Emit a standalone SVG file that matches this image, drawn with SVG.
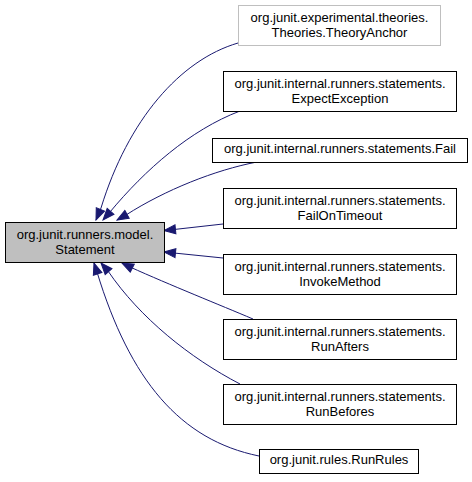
<svg xmlns="http://www.w3.org/2000/svg" width="472" height="482" viewBox="0 0 472 482">
<style>
.n{fill:#fff;stroke:#000;stroke-width:1}
.g{fill:#fff;stroke:#bfbfbf;stroke-width:1}
.m{fill:#bfbfbf;stroke:#000;stroke-width:1}
text{font-family:"Liberation Sans",Arial,sans-serif;font-size:13px;fill:#000;text-anchor:middle}
.e path{fill:none;stroke:#191970;stroke-width:1}
</style>
<defs>
<marker id="ah" markerUnits="userSpaceOnUse" markerWidth="14" markerHeight="12" viewBox="0 0 14 12" refX="12.5" refY="6" orient="auto">
<path d="M1,1.5 L12.5,6 L1,10.5 Z" fill="#191970" stroke="#191970"/>
</marker>
</defs>
<rect width="472" height="482" fill="#fff"/>
<g class="e" id="edges">
<path d="M238,43 C180,60 128,120 101,208 L96,220" marker-end="url(#ah)"/>
<path d="M240,111 C190,130 145,170 110,212 L103,220" marker-end="url(#ah)"/>
<path d="M257,162 C215,170 165,190 126,215 L117,220" marker-end="url(#ah)"/>
<path d="M223,224 L174,229.5 L164,230.5" marker-end="url(#ah)"/>
<path d="M223,258 L174,253 L164,252" marker-end="url(#ah)"/>
<path d="M253,319 C220,305 170,285 130,267 L122,263" marker-end="url(#ah)"/>
<path d="M240,384 C190,358 140,318 108,271 L101,263" marker-end="url(#ah)"/>
<path d="M259,456 C180,440 130,380 97,272 L94,263" marker-end="url(#ah)"/>
</g>
<g id="main">
<rect class="m" x="5.5" y="222.5" width="159" height="40"/>
<text x="85" y="238.5">org.junit.runners.model.</text>
<text x="85" y="253.5">Statement</text>
</g>
<g id="theoryanchor">
<rect class="g" x="238.5" y="5.5" width="202" height="40"/>
<text x="339.5" y="21.5">org.junit.experimental.theories.</text>
<text x="339.5" y="36.5">Theories.TheoryAnchor</text>
</g>
<g id="expectexception">
<rect class="n" x="223.5" y="71.5" width="233" height="40"/>
<text x="340" y="87.5">org.junit.internal.runners.statements.</text>
<text x="340" y="102.5">ExpectException</text>
</g>
<g id="fail">
<rect class="n" x="212.5" y="138.5" width="255" height="24"/>
<text x="340" y="153">org.junit.internal.runners.statements.Fail</text>
</g>
<g id="failontimeout">
<rect class="n" x="223.5" y="188.5" width="233" height="40"/>
<text x="340" y="204.5">org.junit.internal.runners.statements.</text>
<text x="340" y="219.5">FailOnTimeout</text>
</g>
<g id="invokemethod">
<rect class="n" x="223.5" y="254.5" width="233" height="40"/>
<text x="340" y="270.5">org.junit.internal.runners.statements.</text>
<text x="340" y="285.5">InvokeMethod</text>
</g>
<g id="runafters">
<rect class="n" x="223.5" y="319.5" width="233" height="40"/>
<text x="340" y="335.5">org.junit.internal.runners.statements.</text>
<text x="340" y="350.5">RunAfters</text>
</g>
<g id="runbefores">
<rect class="n" x="223.5" y="384.5" width="233" height="40"/>
<text x="340" y="400.5">org.junit.internal.runners.statements.</text>
<text x="340" y="415.5">RunBefores</text>
</g>
<g id="runrules">
<rect class="n" x="259.5" y="449.5" width="159" height="24"/>
<text x="339" y="464">org.junit.rules.RunRules</text>
</g>
</svg>
